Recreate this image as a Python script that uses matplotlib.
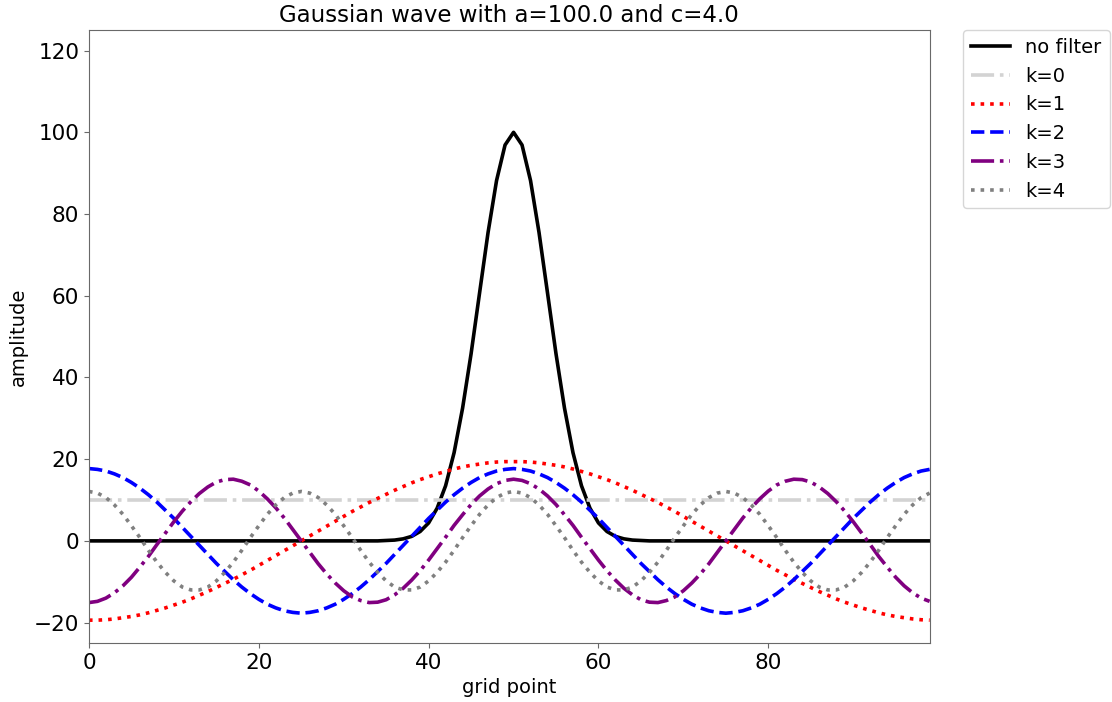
import matplotlib
matplotlib.use("Agg")
import matplotlib.pyplot as plt
import numpy as np

# grid points 0..99
grid = np.arange(100)

# gaussian wave (a=100, c=4)
no_filter = [0.0] * 35 + [
    0.1, 0.2, 0.5, 1.1, 2.3, 4.4, 8.0, 13.5, 21.6, 32.5, 45.8, 60.7, 75.5, 88.2, 96.9,
    100.0,
    96.9, 88.2, 75.5, 60.7, 45.8, 32.5, 21.6, 13.5, 8.0, 4.4, 2.3, 1.1, 0.5, 0.2, 0.1,
] + [0.0] * 34

k0 = [10.0] * 100

k1 = [
    -19.4, -19.4, -19.3, -19.1, -18.8, -18.5, -18.1, -17.6, -17.0, -16.4,
    -15.7, -15.0, -14.2, -13.3, -12.4, -11.4, -10.4, -9.4, -8.3, -7.2,
    -6.0, -4.8, -3.6, -2.4, -1.2, 0.0, 1.2, 2.4, 3.6, 4.8,
    6.0, 7.2, 8.3, 9.4, 10.4, 11.4, 12.4, 13.3, 14.2, 15.0,
    15.7, 16.4, 17.0, 17.6, 18.1, 18.5, 18.8, 19.1, 19.3, 19.4,
    19.4, 19.4, 19.3, 19.1, 18.8, 18.5, 18.1, 17.6, 17.0, 16.4,
    15.7, 15.0, 14.2, 13.3, 12.4, 11.4, 10.4, 9.4, 8.3, 7.2,
    6.0, 4.8, 3.6, 2.4, 1.2, 0.0, -1.2, -2.4, -3.6, -4.8,
    -6.0, -7.2, -8.3, -9.4, -10.4, -11.4, -12.4, -13.3, -14.2, -15.0,
    -15.7, -16.4, -17.0, -17.6, -18.1, -18.5, -18.8, -19.1, -19.3, -19.4,
]

k2 = [
    17.7, 17.5, 17.1, 16.4, 15.5, 14.3, 12.9, 11.3, 9.5, 7.5,
    5.5, 3.3, 1.1, -1.1, -3.3, -5.5, -7.5, -9.5, -11.3, -12.9,
    -14.3, -15.5, -16.4, -17.1, -17.5, -17.7, -17.5, -17.1, -16.4, -15.5,
    -14.3, -12.9, -11.3, -9.5, -7.5, -5.5, -3.3, -1.1, 1.1, 3.3,
    5.5, 7.5, 9.5, 11.3, 12.9, 14.3, 15.5, 16.4, 17.1, 17.5,
    17.7, 17.5, 17.1, 16.4, 15.5, 14.3, 12.9, 11.3, 9.5, 7.5,
    5.5, 3.3, 1.1, -1.1, -3.3, -5.5, -7.5, -9.5, -11.3, -12.9,
    -14.3, -15.5, -16.4, -17.1, -17.5, -17.7, -17.5, -17.1, -16.4, -15.5,
    -14.3, -12.9, -11.3, -9.5, -7.5, -5.5, -3.3, -1.1, 1.1, 3.3,
    5.5, 7.5, 9.5, 11.3, 12.9, 14.3, 15.5, 16.4, 17.1, 17.5,
]

k3 = [
    -15.1, -14.8, -14.0, -12.7, -11.0, -8.9, -6.4, -3.8, -0.9, 1.9,
    4.7, 7.3, 9.6, 11.6, 13.2, 14.4, 15.0, 15.1, 14.6, 13.7,
    12.2, 10.3, 8.1, 5.6, 2.8, 0.0, -2.8, -5.6, -8.1, -10.3,
    -12.2, -13.7, -14.6, -15.1, -15.0, -14.4, -13.2, -11.6, -9.6, -7.3,
    -4.7, -1.9, 0.9, 3.8, 6.4, 8.9, 11.0, 12.7, 14.0, 14.8,
    15.1, 14.8, 14.0, 12.7, 11.0, 8.9, 6.4, 3.8, 0.9, -1.9,
    -4.7, -7.3, -9.6, -11.6, -13.2, -14.4, -15.0, -15.1, -14.6, -13.7,
    -12.2, -10.3, -8.1, -5.6, -2.8, 0.0, 2.8, 5.6, 8.1, 10.3,
    12.2, 13.7, 14.6, 15.1, 15.0, 14.4, 13.2, 11.6, 9.6, 7.3,
    4.7, 1.9, -0.9, -3.8, -6.4, -8.9, -11.0, -12.7, -14.0, -14.8,
]

k4 = [
    12.1, 11.7, 10.6, 8.8, 6.5, 3.7, 0.8, -2.3, -5.2, -7.7,
    -9.8, -11.3, -12.0, -12.0, -11.3, -9.8, -7.7, -5.2, -2.3, 0.8,
    3.7, 6.5, 8.8, 10.6, 11.7, 12.1, 11.7, 10.6, 8.8, 6.5,
    3.7, 0.8, -2.3, -5.2, -7.7, -9.8, -11.3, -12.0, -12.0, -11.3,
    -9.8, -7.7, -5.2, -2.3, 0.8, 3.7, 6.5, 8.8, 10.6, 11.7,
    12.1, 11.7, 10.6, 8.8, 6.5, 3.7, 0.8, -2.3, -5.2, -7.7,
    -9.8, -11.3, -12.0, -12.0, -11.3, -9.8, -7.7, -5.2, -2.3, 0.8,
    3.7, 6.5, 8.8, 10.6, 11.7, 12.1, 11.7, 10.6, 8.8, 6.5,
    3.7, 0.8, -2.3, -5.2, -7.7, -9.8, -11.3, -12.0, -12.0, -11.3,
    -9.8, -7.7, -5.2, -2.3, 0.8, 3.7, 6.5, 8.8, 10.6, 11.7,
]

fig = plt.figure(figsize=(11.12, 7.02), dpi=100)
ax = fig.add_axes([0.080, 0.084, 0.756, 0.873])

lw = 2.6
ax.plot(grid, no_filter, color='black', lw=lw, label='no filter')
ax.plot(grid, k0, color='lightgray', lw=lw, ls='-.', label='k=0')
ax.plot(grid, k1, color='red', lw=lw, ls=':', label='k=1')
ax.plot(grid, k2, color='blue', lw=lw, ls='--', label='k=2')
ax.plot(grid, k3, color='purple', lw=lw, ls='-.', label='k=3')
ax.plot(grid, k4, color='gray', lw=lw, ls=':', label='k=4')

ax.set_xlim(0, 99)
ax.set_ylim(-25, 125)
ax.set_title('Gaussian wave with a=100.0 and c=4.0', fontsize=16.5)
ax.set_xlabel('grid point', fontsize=14)
ax.set_ylabel('amplitude', fontsize=14)
ax.tick_params(labelsize=15.5, color='dimgray')
for sp in ax.spines.values():
    sp.set_color('dimgray')

ax.legend(bbox_to_anchor=(1.04, 1), loc='upper left', borderaxespad=0, fontsize=14)

fig.savefig('out.png', dpi=100)
